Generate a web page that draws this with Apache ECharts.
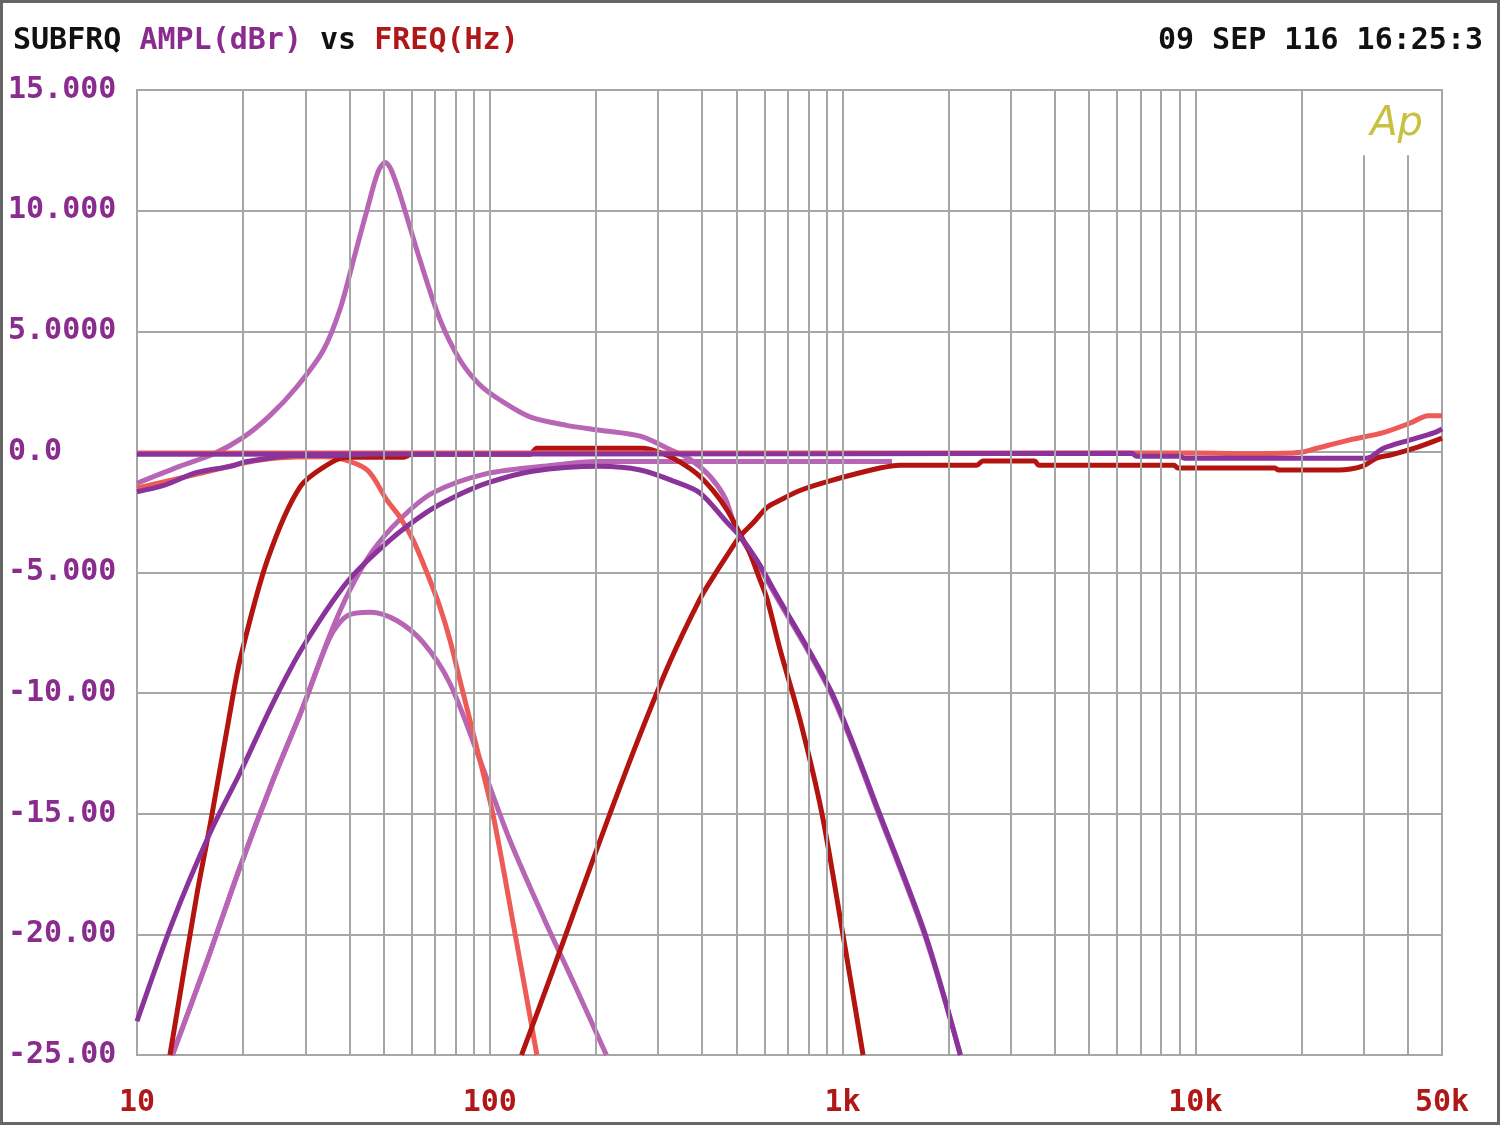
<!DOCTYPE html>
<html>
<head>
<meta charset="utf-8">
<script src="https://cdn.jsdelivr.net/npm/echarts@6/dist/echarts.min.js"></script>
<style>
html,body{margin:0;padding:0;background:#fff;}
#chart{width:1500px;height:1125px;}
</style>
</head>
<body>
<div id="chart"></div>
<script>
// ---------- tick labels ----------
const xTickValues = [10, 100, 1000, 10000, 50000];
const xTickLabels = ['10', '100', '1k', '10k', '50k'];
const yTickValues = [15, 10, 5, 0, -5, -10, -15, -20, -25];
const yTickLabels = ['15.000', '10.000', '5.0000', '0.0', '-5.000', '-10.00', '-15.00', '-20.00', '-25.00'];
const gridFreqs = [20, 30, 40, 50, 60, 70, 80, 90, 100, 200, 300, 400, 500, 600, 700, 800, 900, 1000,
  2000, 3000, 4000, 5000, 6000, 7000, 8000, 9000, 10000, 20000];
const gridFreqsShort = [30000, 40000];

// ---------- series data: [frequency Hz, level dBr] ----------
const flatPurple = [[10, -0.1], [1000, -0.08], [6600, -0.06], [6800, -0.18], [9000, -0.18], [9300, -0.26],
  [30600, -0.26], [34100, 0.15], [40700, 0.5], [47600, 0.8], [50000, 0.95]];
const flatSalmon = [[10, -0.05], [10000, -0.05], [15200, -0.08], [19900, -0.02], [22100, 0.15], [27400, 0.5],
  [34100, 0.8], [40700, 1.2], [45700, 1.5], [50000, 1.5]];
const lowPurple = [[10, -1.65], [11.85, -1.4], [14.8, -0.85], [18.4, -0.6], [20.5, -0.4], [28.4, -0.15],
  [35, -0.15], [45, -0.1]];
const bandPurple = [[10, -23.6], [12.6, -19.5], [16.1, -15.8], [19.6, -13.3], [24.3, -10.4], [29.5, -8.1],
  [39.4, -5.4], [52.2, -3.65], [66.3, -2.5], [78.5, -1.9], [98, -1.3], [132, -0.8], [205, -0.6], [267, -0.75],
  [330, -1.2], [394, -1.7], [469, -2.9], [512, -3.5], [572, -4.5], [637, -5.7], [933, -10], [1273, -15],
  [1715, -20], [2157, -25]];
const peakOrchid = [[10, -1.3], [13.2, -0.6], [16.4, -0.1], [20, 0.6], [23.8, 1.5], [28.4, 2.7], [33.7, 4.2],
  [37.6, 5.9], [41.5, 8.2], [45.2, 10.2], [48.2, 11.6], [50.5, 12.0], [52.5, 11.7], [55.7, 10.65],
  [63.4, 7.95], [72.3, 5.47], [82.3, 3.81], [93.8, 2.77], [106.9, 2.15], [130, 1.45], [165, 1.1],
  [205, 0.9], [267, 0.65], [324, 0.1], [369, -0.3], [420, -1.0], [464, -1.9], [488, -2.8], [512, -3.5],
  [572, -4.6], [637, -5.8], [933, -10.1], [1273, -15.1], [1715, -20.1], [2157, -25]];
const bandOrchid = [[12.6, -25], [15.8, -21.1], [19.6, -17.2], [24.3, -13.6], [29.5, -10.6], [35.2, -7.7],
  [39.4, -6.8], [45.8, -6.65], [54.6, -7.0], [64.7, -7.9], [77.1, -9.6], [93.9, -12.8], [114, -16.1],
  [143, -19.4], [174, -22.1], [214, -25]];
const highOrchid = [[12.6, -25], [15.8, -21.1], [19.6, -17.2], [24.3, -13.6], [29.5, -10.6], [35.2, -7.6],
  [40.2, -5.7], [46.6, -4.1], [55.6, -2.8], [68.9, -1.7], [98, -0.9], [151, -0.55], [202, -0.4], [1380, -0.4]];
const bandSalmon = [[10, -1.5], [10.7, -1.4], [15, -0.9], [20.2, -0.45], [24.9, -0.25], [33.4, -0.2],
  [37.1, -0.25], [44.9, -0.75], [51.1, -2.0], [55.6, -2.7], [60.6, -3.65], [66.3, -5.0], [72.1, -6.4],
  [77.1, -7.8], [82.4, -9.5], [90.9, -12], [102, -15], [118, -20], [136, -25]];
const bandRed = [[12.4, -25], [14.8, -18.3], [16.1, -15.5], [18.4, -10.7], [19.6, -8.6], [23.4, -4.5],
  [29, -1.45], [35.9, -0.4], [40, -0.22], [57, -0.22], [60, -0.1], [130, -0.1], [136, 0.15], [272, 0.15],
  [300, 0], [330, -0.25], [386, -0.9], [429, -1.6], [470, -2.4], [512, -3.4], [546, -4.2], [583, -5.3],
  [611, -6.1], [665, -8.2], [757, -11.1], [874, -15], [1002, -20], [1143, -25]];
const highRed = [[123, -25], [150, -21.6], [180, -18.4], [219, -15.0], [267, -11.7], [324, -8.7], [394, -6.1],
  [429, -5.2], [470, -4.3], [512, -3.5], [557, -2.95], [611, -2.3], [665, -2.0], [757, -1.6], [921, -1.2],
  [1276, -0.67], [1455, -0.55], [2400, -0.55], [2500, -0.38], [3500, -0.38], [3600, -0.55], [8700, -0.55],
  [8900, -0.67], [16800, -0.67], [17200, -0.75], [25500, -0.75], [29800, -0.59], [32700, -0.25],
  [35700, -0.13], [42700, 0.2], [50000, 0.57]];

// ---------- colours ----------
const C_DARKRED = '#b3140f';
const C_SALMON = '#ee5a55';
const C_PURPLE = '#8a339a';
const C_ORCHID = '#b865b5';
const C_LABEL_PURPLE = '#8a2b8e';
const C_LABEL_RED = '#b01818';
const C_GRID = '#a6a6a6';

function curve(name, data, color) {
  return {
    name: name, type: 'line', data: data, showSymbol: false, smooth: 0.3,
    lineStyle: { color: color, width: 5 }, z: 3, silent: true
  };
}

function tickIndex(values, v) {
  for (let i = 0; i < values.length; i++) {
    if (Math.abs(Math.log10(v) - Math.log10(values[i])) < 0.005) return i;
  }
  return -1;
}

const gridLineData = gridFreqs.map(f => [{ coord: [f, 15] }, { coord: [f, -25] }])
  .concat(gridFreqsShort.map(f => [{ coord: [f, 12.3] }, { coord: [f, -25] }]));

const MONO = "'DejaVu Sans Mono', 'Liberation Mono', monospace";

const chart = echarts.init(document.getElementById('chart'), null, { renderer: 'canvas' });
chart.setOption({
  animation: false,
  backgroundColor: '#ffffff',
  title: [{
    left: 8, top: 21,
    text: '{k|SUBFRQ }{p|AMPL(dBr) }{k|vs }{r|FREQ(Hz)}',
    textStyle: {
      rich: {
        k: { color: '#111', fontFamily: MONO, fontSize: 30, fontWeight: 'bold' },
        p: { color: C_LABEL_PURPLE, fontFamily: MONO, fontSize: 30, fontWeight: 'bold' },
        r: { color: C_LABEL_RED, fontFamily: MONO, fontSize: 30, fontWeight: 'bold' }
      }
    }
  }, {
    right: 12, top: 21,
    text: '09 SEP 116 16:25:3',
    textStyle: { color: '#111', fontFamily: MONO, fontSize: 30, fontWeight: 'bold' }
  }, {
    right: 72, top: 100,
    text: 'Ap',
    textStyle: { color: '#c8c040', fontFamily: "'DejaVu Sans', sans-serif", fontSize: 40, fontWeight: 200, fontStyle: 'italic' }
  }],
  grid: {
    left: 137, right: 58, top: 90, bottom: 70,
    show: true, borderColor: C_GRID, borderWidth: 2, backgroundColor: '#fff'
  },
  xAxis: {
    type: 'log', logBase: 10, min: 10, max: 50000,
    axisLine: { show: false }, axisTick: { show: false },
    splitLine: { show: false },
    axisLabel: {
      customValues: xTickValues,
      showMinLabel: true, showMaxLabel: true,
      margin: 33,
      color: C_LABEL_RED, fontFamily: MONO, fontSize: 30, fontWeight: 'bold',
      formatter: v => { const i = tickIndex(xTickValues, v); return i >= 0 ? xTickLabels[i] : ''; }
    }
  },
  yAxis: {
    type: 'value', min: -25, max: 15, interval: 5,
    axisLine: { show: false }, axisTick: { show: false },
    splitLine: { show: true, lineStyle: { color: C_GRID, width: 2 } },
    axisLabel: {
      align: 'left', margin: 129,
      color: C_LABEL_PURPLE, fontFamily: MONO, fontSize: 30, fontWeight: 'bold',
      formatter: v => { const i = yTickValues.indexOf(v); return i >= 0 ? yTickLabels[i] : ''; }
    }
  },
  graphic: [{
    type: 'rect', silent: true, z: 100,
    shape: { x: 1.5, y: 1.5, width: 1497, height: 1122 },
    style: { fill: 'none', stroke: '#666', lineWidth: 3 }
  }],
  series: [
    {
      name: 'grid', type: 'line', data: [], z: 1, silent: true,
      markLine: {
        silent: true, symbol: ['none', 'none'], label: { show: false }, animation: false,
        lineStyle: { color: C_GRID, width: 2, type: 'solid' },
        emphasis: { disabled: true },
        data: gridLineData
      }
    },
    curve('bandOrchid', bandOrchid, C_ORCHID),
    curve('highOrchid', highOrchid, C_ORCHID),
    curve('peakOrchid', peakOrchid, C_ORCHID),
    curve('bandSalmon', bandSalmon, C_SALMON),
    curve('highRed', highRed, C_DARKRED),
    curve('bandRed', bandRed, C_DARKRED),
    curve('lowPurple', lowPurple, C_PURPLE),
    curve('bandPurple', bandPurple, C_PURPLE),
    curve('flatSalmon', flatSalmon, C_SALMON),
    curve('flatPurple', flatPurple, C_PURPLE)
  ]
});
</script>
</body>
</html>
